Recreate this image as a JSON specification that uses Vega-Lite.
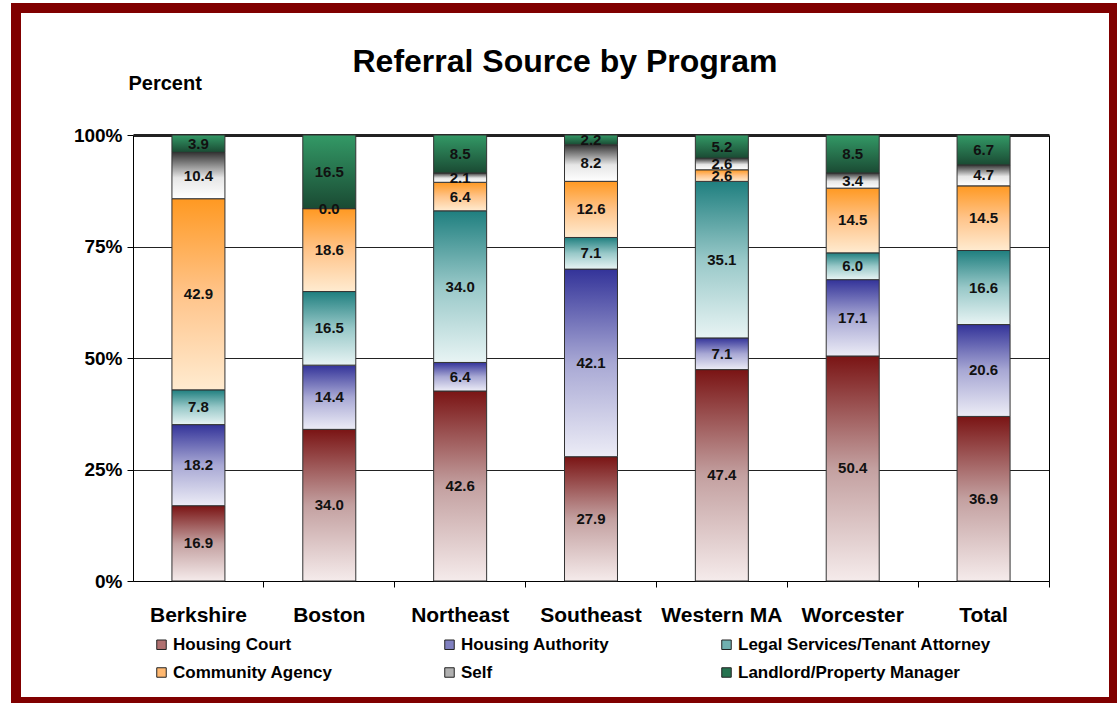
{
  "$schema": "https://vega.github.io/schema/vega-lite/v6.json",
  "width": 1098,
  "height": 694,
  "autosize": {"type": "none"},
  "padding": {"left": 16, "top": 8, "right": 3, "bottom": 1},
  "background": "white",
  "params": [
    {"name": "grads", "value": {
      "Housing Court": {"gradient": "linear", "x1": 0, "y1": 0, "x2": 0, "y2": 1, "stops": [{"offset": 0, "color": "#7a1414"}, {"offset": 0.5, "color": "#c3a0a0"}, {"offset": 1, "color": "#f5ebeb"}]},
      "Housing Authority": {"gradient": "linear", "x1": 0, "y1": 0, "x2": 0, "y2": 1, "stops": [{"offset": 0, "color": "#333399"}, {"offset": 0.5, "color": "#a8a8d4"}, {"offset": 1, "color": "#ececf6"}]},
      "Legal Services/Tenant Attorney": {"gradient": "linear", "x1": 0, "y1": 0, "x2": 0, "y2": 1, "stops": [{"offset": 0, "color": "#1f7f7f"}, {"offset": 0.5, "color": "#98c8c8"}, {"offset": 1, "color": "#e8f4f4"}]},
      "Community Agency": {"gradient": "linear", "x1": 0, "y1": 0, "x2": 0, "y2": 1, "stops": [{"offset": 0, "color": "#ff9922"}, {"offset": 0.5, "color": "#ffc48a"}, {"offset": 1, "color": "#ffebd0"}]},
      "Self": {"gradient": "linear", "x1": 0, "y1": 0, "x2": 0, "y2": 1, "stops": [{"offset": 0, "color": "#333333"}, {"offset": 0.55, "color": "#e6e6e6"}, {"offset": 1, "color": "#ffffff"}]},
      "Landlord/Property Manager": {"gradient": "linear", "x1": 0, "y1": 0, "x2": 0, "y2": 1, "stops": [{"offset": 0, "color": "#339966"}, {"offset": 1, "color": "#1a4a33"}]}
    }}
  ],
  "title": {"text": "Referral Source by Program", "fontSize": 32, "fontWeight": "bold", "font": "Liberation Sans", "color": "#000", "anchor": "middle", "frame": "group", "baseline": "alphabetic", "offset": -96},
  "config": {"view": {"stroke": "#800000", "strokeWidth": 10, "fill": "white"}, "font": "Liberation Sans"},
  "data": {"values": [
    {"program": "Berkshire", "source": "Housing Court", "idx": 1, "value": 16.9},
    {"program": "Berkshire", "source": "Housing Authority", "idx": 2, "value": 18.2},
    {"program": "Berkshire", "source": "Legal Services/Tenant Attorney", "idx": 3, "value": 7.8},
    {"program": "Berkshire", "source": "Community Agency", "idx": 4, "value": 42.9},
    {"program": "Berkshire", "source": "Self", "idx": 5, "value": 10.4},
    {"program": "Berkshire", "source": "Landlord/Property Manager", "idx": 6, "value": 3.9},
    {"program": "Boston", "source": "Housing Court", "idx": 1, "value": 34.0},
    {"program": "Boston", "source": "Housing Authority", "idx": 2, "value": 14.4},
    {"program": "Boston", "source": "Legal Services/Tenant Attorney", "idx": 3, "value": 16.5},
    {"program": "Boston", "source": "Community Agency", "idx": 4, "value": 18.6},
    {"program": "Boston", "source": "Self", "idx": 5, "value": 0.0},
    {"program": "Boston", "source": "Landlord/Property Manager", "idx": 6, "value": 16.5},
    {"program": "Northeast", "source": "Housing Court", "idx": 1, "value": 42.6},
    {"program": "Northeast", "source": "Housing Authority", "idx": 2, "value": 6.4},
    {"program": "Northeast", "source": "Legal Services/Tenant Attorney", "idx": 3, "value": 34.0},
    {"program": "Northeast", "source": "Community Agency", "idx": 4, "value": 6.4},
    {"program": "Northeast", "source": "Self", "idx": 5, "value": 2.1},
    {"program": "Northeast", "source": "Landlord/Property Manager", "idx": 6, "value": 8.5},
    {"program": "Southeast", "source": "Housing Court", "idx": 1, "value": 27.9},
    {"program": "Southeast", "source": "Housing Authority", "idx": 2, "value": 42.1},
    {"program": "Southeast", "source": "Legal Services/Tenant Attorney", "idx": 3, "value": 7.1},
    {"program": "Southeast", "source": "Community Agency", "idx": 4, "value": 12.6},
    {"program": "Southeast", "source": "Self", "idx": 5, "value": 8.2},
    {"program": "Southeast", "source": "Landlord/Property Manager", "idx": 6, "value": 2.2},
    {"program": "Western MA", "source": "Housing Court", "idx": 1, "value": 47.4},
    {"program": "Western MA", "source": "Housing Authority", "idx": 2, "value": 7.1},
    {"program": "Western MA", "source": "Legal Services/Tenant Attorney", "idx": 3, "value": 35.1},
    {"program": "Western MA", "source": "Community Agency", "idx": 4, "value": 2.6},
    {"program": "Western MA", "source": "Self", "idx": 5, "value": 2.6},
    {"program": "Western MA", "source": "Landlord/Property Manager", "idx": 6, "value": 5.2},
    {"program": "Worcester", "source": "Housing Court", "idx": 1, "value": 50.4},
    {"program": "Worcester", "source": "Housing Authority", "idx": 2, "value": 17.1},
    {"program": "Worcester", "source": "Legal Services/Tenant Attorney", "idx": 3, "value": 6.0},
    {"program": "Worcester", "source": "Community Agency", "idx": 4, "value": 14.5},
    {"program": "Worcester", "source": "Self", "idx": 5, "value": 3.4},
    {"program": "Worcester", "source": "Landlord/Property Manager", "idx": 6, "value": 8.5},
    {"program": "Total", "source": "Housing Court", "idx": 1, "value": 36.9},
    {"program": "Total", "source": "Housing Authority", "idx": 2, "value": 20.6},
    {"program": "Total", "source": "Legal Services/Tenant Attorney", "idx": 3, "value": 16.6},
    {"program": "Total", "source": "Community Agency", "idx": 4, "value": 14.5},
    {"program": "Total", "source": "Self", "idx": 5, "value": 4.7},
    {"program": "Total", "source": "Landlord/Property Manager", "idx": 6, "value": 6.7}
  ]},
  "layer": [
    {
      "mark": {"type": "bar", "stroke": "#333333", "strokeWidth": 1},
      "encoding": {
        "x": {"field": "program", "type": "nominal",
          "sort": ["Berkshire", "Boston", "Northeast", "Southeast", "Western MA", "Worcester", "Total"],
          "scale": {"range": [117, 1033], "paddingInner": 0.595, "paddingOuter": 0.2975},
          "axis": {"orient": "bottom", "offset": -121, "title": null, "labelAngle": 0, "labelFontSize": 21, "labelFontWeight": "bold", "labelColor": "#000", "labelBaseline": "alphabetic", "labelPadding": 34, "tickSize": 6, "tickColor": "#000", "domainColor": "#000", "bandPosition": 1.7346, "grid": false}},
        "y": {"field": "value", "type": "quantitative", "stack": "normalize",
          "scale": {"domain": [0, 1], "range": [573, 127], "nice": false},
          "axis": {"orient": "left", "offset": -117, "values": [0, 0.25, 0.5, 0.75, 1], "format": ".0%", "grid": true, "gridColor": "#222222",
            "gridWidth": {"condition": {"test": "datum.value === 1", "value": 3}, "value": 1},
            "domainColor": "#000", "tickColor": "#000", "tickSize": 6, "labelFontSize": 19, "labelFontWeight": "bold", "labelColor": "#000", "labelPadding": 5,
            "title": "Percent", "titleAngle": 0, "titleX": -5, "titleY": 81, "titleAlign": "left", "titleBaseline": "alphabetic", "titleFontSize": 20, "titleFontWeight": "bold", "titleColor": "#000"}},
        "detail": {"field": "source", "type": "nominal"},
        "fill": {"value": {"expr": "grads[datum.source]"}},
        "order": {"field": "idx", "type": "quantitative"}
      }
    },
    {
      "mark": {"type": "square", "size": 0, "opacity": 0},
      "encoding": {
        "x": {"field": "program", "type": "nominal",
          "sort": ["Berkshire", "Boston", "Northeast", "Southeast", "Western MA", "Worcester", "Total"]},
        "color": {"field": "source", "type": "nominal",
          "scale": {
            "domain": ["Housing Court", "Housing Authority", "Legal Services/Tenant Attorney", "Community Agency", "Self", "Landlord/Property Manager"],
            "range": ["#b07070", "#8080c0", "#70b0b0", "#ffb870", "#b0b0b0", "#267350"]},
          "legend": {"orient": "none", "legendX": 137, "legendY": 628, "direction": "horizontal", "columns": 3, "title": null, "padding": 0,
            "symbolType": "square", "symbolSize": 90, "symbolStrokeColor": "#222222", "symbolStrokeWidth": 1, "symbolOpacity": 1,
            "labelFontSize": 17, "labelFontWeight": "bold", "labelFont": "Liberation Sans", "labelColor": "#000", "labelLimit": 400, "labelOffset": 3,
            "columnPadding": 108, "rowPadding": 10,
            "encode": {"symbols": {"update": {"fill": {"signal": "grads[datum.value]"}, "stroke": {"value": "#222222"}, "strokeWidth": {"value": 1}, "opacity": {"value": 1}, "size": {"value": 90}}}}}}
      }
    },
    {
      "mark": {"type": "text", "fontSize": 15, "fontWeight": "bold", "color": "#111111"},
      "encoding": {
        "x": {"field": "program", "type": "nominal",
          "sort": ["Berkshire", "Boston", "Northeast", "Southeast", "Western MA", "Worcester", "Total"]},
        "y": {"field": "value", "type": "quantitative", "stack": "normalize", "bandPosition": 0.5,
          "axis": {"orient": "right", "offset": -65, "grid": false, "labels": false, "ticks": false, "domainColor": "#000", "title": null}},
        "detail": {"field": "source", "type": "nominal"},
        "order": {"field": "idx", "type": "quantitative"},
        "text": {"field": "value", "type": "quantitative", "format": ".1f"}
      }
    }
  ],
  "resolve": {"axis": {"y": "independent"}}
}
